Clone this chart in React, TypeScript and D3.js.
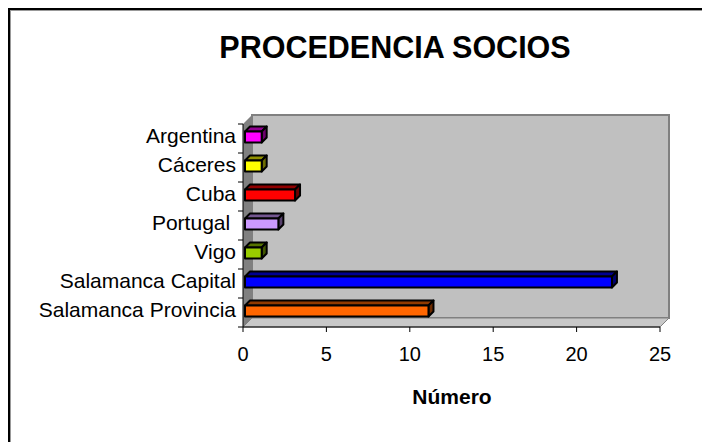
import * as d3 from 'd3';

const categories = [
  'Argentina',
  'Cáceres',
  'Cuba',
  'Portugal ',
  'Vigo',
  'Salamanca Capital',
  'Salamanca Provincia',
];
const values = [1, 1, 3, 2, 1, 22, 11];
const colors = ['#ff00ff', '#ffff00', '#ff0000', '#cc99ff', '#99cc00', '#0000ff', '#ff6600'];
const ticks = [0, 5, 10, 15, 20, 25];

const FONT = 'Arial, "Liberation Sans", sans-serif';

export default function App() {
  // front plane and depth of the 3D box
  const x = d3.scaleLinear().domain([0, 25]).range([243, 660]);
  const y = d3.scaleBand<string>().domain(categories).range([124, 327]).padding(0);
  const depth = 9;
  const barDepth = 5;
  const [top, bottom] = y.range();
  const [left, right] = x.range();

  const pts = (p: number[][]) => p.map(d => d.join(',')).join(' ');

  return (
    <svg width={702} height={442} style={{ position: 'absolute', left: 0, top: 0 }} fontFamily={FONT}>
      <rect x={0} y={0} width={702} height={442} fill="#fff" />
      {/* chart frame */}
      <rect x={10.5} y={10.5} width={800} height={800} fill="none" stroke="#999" strokeWidth={1} />
      <rect x={9} y={9} width={800} height={800} fill="none" stroke="#000" strokeWidth={2} />

      <text x={395} y={58} textAnchor="middle" fontSize={30.5} fontWeight="bold">
        PROCEDENCIA SOCIOS
      </text>

      {/* walls */}
      <rect
        x={left + depth}
        y={top - depth}
        width={right - left}
        height={bottom - top}
        fill="#c0c0c0"
        stroke="#808080"
        strokeWidth={2}
      />
      <polygon
        points={pts([[left, top], [left + depth, top - depth], [left + depth, bottom - depth], [left, bottom]])}
        fill="#808080"
      />
      <polygon
        points={pts([[left, bottom], [left + depth, bottom - depth], [right + depth, bottom - depth], [right, bottom]])}
        fill="#c8c8c8"
        stroke="#808080"
        strokeWidth={1}
      />

      {/* bars */}
      {categories.map((c, i) => {
        const yc = (y(c) ?? 0) + y.bandwidth() / 2;
        const ft = yc - 7;
        const fb = yc + 4;
        const x0 = x(0) + 2;
        const x1 = x(values[i]) + 2;
        const dark = d3.color(colors[i])!.darker(1.6).toString();
        const darker = d3.color(colors[i])!.darker(2.4).toString();
        return (
          <g key={c} stroke="#000" strokeWidth={2} strokeLinejoin="round">
            <polygon
              points={pts([[x0, ft], [x0 + barDepth, ft - barDepth], [x1 + barDepth, ft - barDepth], [x1, ft]])}
              fill={dark}
            />
            <polygon
              points={pts([[x1, ft], [x1 + barDepth, ft - barDepth], [x1 + barDepth, fb - barDepth], [x1, fb]])}
              fill={darker}
            />
            <rect x={x0} y={ft} width={x1 - x0} height={fb - ft} fill={colors[i]} />
          </g>
        );
      })}

      {/* category axis */}
      <line x1={left} y1={top} x2={left} y2={bottom} stroke="#000" />
      {d3.range(categories.length + 1).map(i => {
        const yy = top + i * y.bandwidth();
        return <line key={i} x1={left - 5} y1={yy} x2={left} y2={yy} stroke="#000" />;
      })}
      {categories.map(c => (
        <text
          key={c}
          x={236}
          y={(y(c) ?? 0) + y.bandwidth() / 2 - 3}
          dy="0.35em"
          textAnchor="end"
          fontSize={21}
          style={{ whiteSpace: 'pre' }}
        >
          {c}
        </text>
      ))}

      {/* value axis */}
      <line x1={left} y1={bottom} x2={right} y2={bottom} stroke="#000" />
      {ticks.map(t => (
        <g key={t}>
          <line x1={x(t)} y1={bottom} x2={x(t)} y2={bottom + 5} stroke="#000" />
          <text x={x(t)} y={361} textAnchor="middle" fontSize={20}>
            {t}
          </text>
        </g>
      ))}
      <text x={452} y={404} textAnchor="middle" fontSize={21} fontWeight="bold">
        Número
      </text>
    </svg>
  );
}
